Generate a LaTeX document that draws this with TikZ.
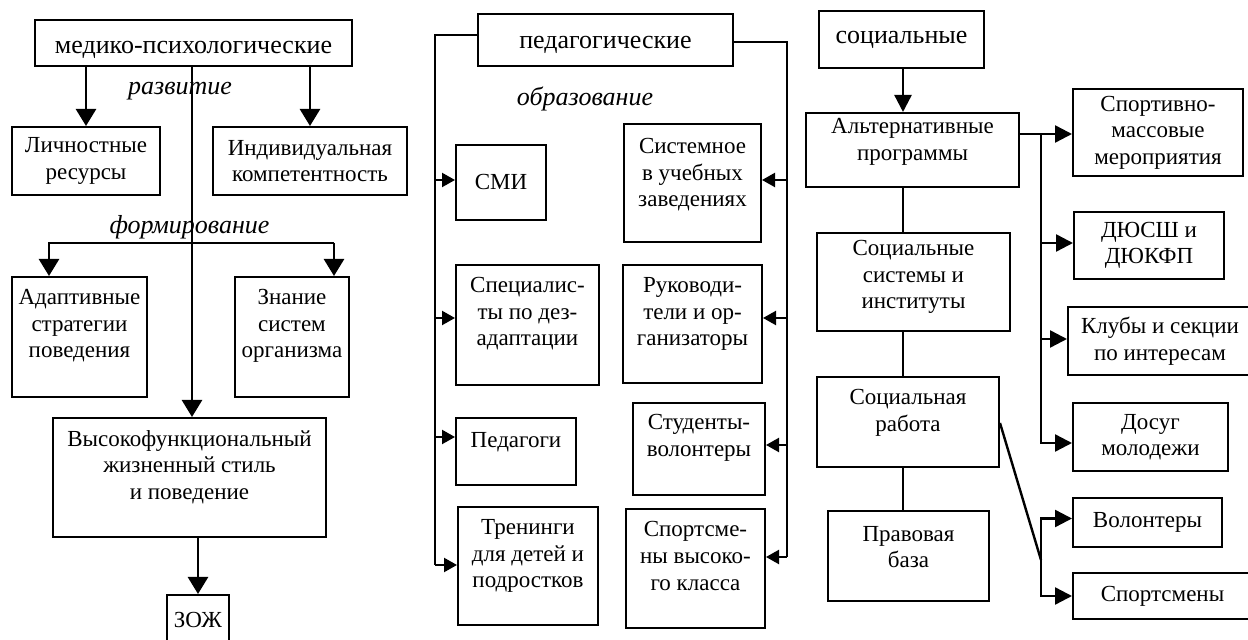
\documentclass[tikz,border=0pt]{standalone}
\usepackage{fontspec}
\setmainfont{Liberation Serif}
\usetikzlibrary{arrows.meta}

\newcommand{\bodyfont}{\fontsize{11.5}{13.3}\selectfont}
\newcommand{\headfont}{\fontsize{13}{15}\selectfont}

\begin{document}
\begin{tikzpicture}[x=0.5pt, y=-0.5pt,
    box/.style={draw, line width=1pt, inner sep=0pt, align=center, font=\bodyfont},
    head/.style={box, font=\headfont},
    txt/.style={align=center, font=\bodyfont, inner sep=0pt},
    note/.style={font=\headfont\itshape, inner sep=0pt},
    line/.style={line width=1.2pt},
    arr/.style={-{Triangle[length=8.5pt, width=10pt]}, line width=1.3pt},
    sarr/.style={-{Triangle[length=6.5pt, width=7pt]}, line width=1.1pt},
    rarr/.style={-{Triangle[length=8.5pt, width=8.5pt]}, line width=1.2pt}
  ]
  \useasboundingbox (0,0) rectangle (1248,640);
  \clip (0,0) rectangle (1248,640);

  % медико-психологические
  \node[head, minimum width=158.5pt, minimum height=23pt,
        label={[txt, font=\headfont, yshift=-3.5pt]center:медико-психологические}] (med) at (193.5,43) {};
  \node[box, minimum width=74pt, minimum height=34pt] (lres) at (86,161) {Личностные\\ресурсы};
  \node[box, minimum width=97pt, minimum height=34pt] (icomp) at (310,161) {Индивидуальная\\компетентность};
  \node[box, minimum width=67.5pt, minimum height=60pt,
        label={[txt, yshift=5.5pt]center:Адаптивные\\стратегии\\поведения}] (adapt) at (79.5,337) {};
  \node[box, minimum width=57pt, minimum height=60pt,
        label={[txt, yshift=5.5pt]center:Знание\\систем\\организма}] (know) at (292,337) {};
  \node[box, minimum width=136.5pt, minimum height=59.5pt,
        label={[txt, yshift=5.25pt]center:Высокофункциональный\\жизненный стиль\\и поведение}] (vys) at (189.5,477.5) {};
  \node[box, minimum width=31pt, minimum height=25pt] (zozh) at (198,620) {ЗОЖ};

  \node[note] (dev) at (180,91) {развитие};
  \node[note] (form) at (189.5,227) {формирование};

  \coordinate (fl) at (49,243);
  \coordinate (fr) at (334,243);
  \draw[arr] (med.south -| lres.north) -- (lres.north);
  \draw[arr] (med.south -| icomp.north) -- (icomp.north);
  \draw[arr] ([xshift=-0.75pt]med.south) -- ([xshift=-0.75pt]med.south |- vys.north);
  \draw[arr] (fr) -- (fl) -- (fl |- adapt.north);
  \draw[arr] (fr) -- (fr |- know.north);
  \draw[arr] (vys.south -| zozh.north) -- (zozh.north);

  % педагогические
  \node[head, minimum width=127.5pt, minimum height=26pt,
        label={[txt, font=\headfont, yshift=-2.5pt]center:педагогические}] (ped) at (605.5,40) {};
  \node[note] (edu) at (585,99) {образование};
  \node[box, minimum width=45pt, minimum height=37.5pt] (smi) at (501,182.5) {СМИ};
  \node[box, minimum width=68.5pt, minimum height=59pt,
        label={[txt, yshift=4pt]center:Системное\\в учебных\\заведениях}] (sys) at (692.5,183) {};
  \node[box, minimum width=71.5pt, minimum height=60pt,
        label={[txt, yshift=5.5pt]center:Специалис-\\ты по дез-\\адаптации}] (spec) at (527.5,325) {};
  \node[box, minimum width=69.5pt, minimum height=59pt,
        label={[txt, yshift=5pt]center:Руководи-\\тели и ор-\\ганизаторы}] (ruk) at (692.5,324) {};
  \node[box, minimum width=60pt, minimum height=33.5pt,
        label={[txt, yshift=4.75pt]center:Педагоги}] (pedg) at (516,451.5) {};
  \node[box, minimum width=66pt, minimum height=46pt,
        label={[txt, yshift=5.5pt]center:Студенты-\\волонтеры}] (stud) at (699,449) {};
  \node[box, minimum width=70pt, minimum height=59pt,
        label={[txt, yshift=5pt]center:Тренинги\\для детей и\\подростков}] (tren) at (528,566) {};
  \node[box, minimum width=69.5pt, minimum height=59.5pt,
        label={[txt, yshift=6.25pt]center:Спортсме-\\ны высоко-\\го класса}] (sprt) at (695.5,568.5) {};

  \coordinate (lb) at (435,0);
  \coordinate (rb) at (787,0);
  \draw[line] ([yshift=2.5pt]ped.west) -| ([yshift=0.5pt]tren.west -| lb);
  \draw[line] ([yshift=-1pt]ped.east) -| ([yshift=5.75pt]sprt.east -| rb);
  \foreach \n/\s in {smi/1.25, spec/3.5, pedg/7.25, tren/0.5}
    \draw[sarr] ([yshift=\s pt]\n.west -| lb) -- ([yshift=\s pt]\n.west);
  \foreach \n/\s in {sys/1.5, ruk/3, stud/2, sprt/5.75}
    \draw[sarr] ([yshift=\s pt]\n.east -| rb) -- ([yshift=\s pt]\n.east);

  % социальные
  \node[head, minimum width=82.5pt, minimum height=28.5pt] (soc) at (901.5,39.5) {социальные};
  \node[box, minimum width=106.5pt, minimum height=37pt,
        label={[txt, yshift=4pt]center:Альтернативные\\программы}] (alt) at (912.5,150) {};
  \node[box, minimum width=96.5pt, minimum height=49pt,
        label={[txt, yshift=2.5pt]center:Социальные\\системы и\\институты}] (ssys) at (913.5,282) {};
  \node[box, minimum width=91pt, minimum height=45pt,
        label={[txt, yshift=4.5pt]center:Социальная\\работа}] (swork) at (908,422) {};
  \node[box, minimum width=80.5pt, minimum height=45pt,
        label={[txt, yshift=4.5pt]center:Правовая\\база}] (law) at (908.5,556) {};
  \node[box, minimum width=85pt, minimum height=43.5pt] (mass) at (1158,132.5) {Спортивно-\\массовые\\мероприятия};
  \node[box, minimum width=75pt, minimum height=33.5pt] (dyussh) at (1149,245.5) {ДЮСШ и\\ДЮКФП};
  \node[box, minimum width=92pt, minimum height=34pt] (clubs) at (1160,341) {Клубы и секции\\по интересам};
  \node[box, minimum width=77.5pt, minimum height=34pt] (leisure) at (1150.5,437) {Досуг\\молодежи};
  \node[box, minimum width=74.5pt, minimum height=24.5pt] (vol) at (1147.5,522.5) {Волонтеры};
  \node[box, minimum width=89.5pt, minimum height=23pt] (athl) at (1162.5,596) {Спортсмены};

  \coordinate (sp) at (903,0);
  \coordinate (bx) at (1041,0);
  \coordinate (vb) at (1041,560);
  \draw[rarr] (soc.south -| sp) -- (alt.north -| sp);
  \draw[line] (alt.south -| sp) -- (ssys.north -| sp);
  \draw[line] (ssys.south -| sp) -- (swork.north -| sp);
  \draw[line] (swork.south -| sp) -- (law.north -| sp);
  \draw[rarr] ([yshift=8pt]alt.east) -- ([yshift=8pt]alt.east -| mass.west);
  \draw[rarr] ([yshift=8pt]alt.east -| bx) |- ([yshift=-3pt]leisure.west);
  \foreach \n/\s in {dyussh/1.25, clubs/1}
    \draw[rarr] ([yshift=\s pt]\n.west -| bx) -- ([yshift=\s pt]\n.west);
  \draw[line] ([yshift=-0.5pt]swork.east) -- (vb);
  \draw[rarr] (vb) |- ([yshift=2pt]vol.west);
  \draw[rarr] (vb) |- (athl.west);
\end{tikzpicture}
\end{document}
